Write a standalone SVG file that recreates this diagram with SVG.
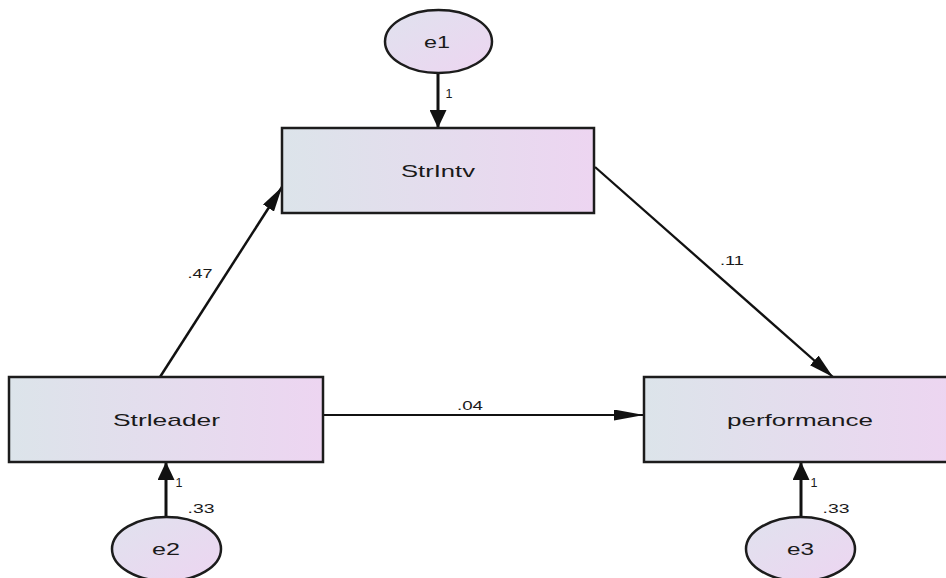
<svg xmlns="http://www.w3.org/2000/svg" width="946" height="578" viewBox="0 0 946 578">
<style>
.box{fill:url(#g);stroke:#1c1c1c;stroke-width:2.5}
.ell{fill:url(#g2);stroke:#1c1c1c;stroke-width:2.5}
.lbl{font-family:"Liberation Sans",Arial,sans-serif;font-size:17px;fill:#1a1a1a;text-anchor:middle}
.num{font-family:"Liberation Sans",Arial,sans-serif;font-size:12.5px;fill:#1a1a1a;text-anchor:middle}
.c{stroke:#111;fill:none}
</style>
<defs>
<linearGradient id="g" x1="0" y1="0" x2="1" y2="0">
<stop offset="0" stop-color="#dce4ea"/>
<stop offset="1" stop-color="#edd5f1"/>
</linearGradient>
<linearGradient id="g2" x1="0" y1="0" x2="1" y2="1">
<stop offset="0" stop-color="#e0e2ee"/>
<stop offset="1" stop-color="#edd5f1"/>
</linearGradient>
<marker id="av" markerUnits="userSpaceOnUse" viewBox="0 0 18 17" markerWidth="18" markerHeight="17" refX="18" refY="8.5" orient="auto">
<path d="M0,0 L18,8.5 L0,17 z" fill="#111"/>
</marker>
<marker id="ah" markerUnits="userSpaceOnUse" viewBox="0 0 30 11" markerWidth="30" markerHeight="11" refX="30" refY="5.5" orient="auto">
<path d="M0,0 L30,5.5 L0,11 z" fill="#111"/>
</marker>
<marker id="ad" markerUnits="userSpaceOnUse" viewBox="0 0 25 13" markerWidth="25" markerHeight="13" refX="25" refY="6.5" orient="auto">
<path d="M0,0 L25,6.5 L0,13 z" fill="#111"/>
</marker>
</defs>
<g id="connectors">
<line class="c" x1="438" y1="73" x2="438" y2="128" stroke-width="3" marker-end="url(#av)"/>
<line class="c" x1="166" y1="517" x2="166" y2="462" stroke-width="3" marker-end="url(#av)"/>
<line class="c" x1="801" y1="517" x2="801" y2="462" stroke-width="3" marker-end="url(#av)"/>
<line class="c" x1="160" y1="377" x2="282" y2="187" stroke-width="2.5" marker-end="url(#ad)"/>
<line class="c" x1="595" y1="167" x2="833" y2="377" stroke-width="2.3" marker-end="url(#ad)"/>
<line class="c" x1="323" y1="415" x2="644" y2="415" stroke-width="2" marker-end="url(#ah)"/>
<text class="num" x="449" y="98" textLength="7" lengthAdjust="spacingAndGlyphs">1</text>
<text class="num" x="200" y="278" textLength="25" lengthAdjust="spacingAndGlyphs">.47</text>
<text class="num" x="732" y="265" textLength="24" lengthAdjust="spacingAndGlyphs">.11</text>
<text class="num" x="470" y="410" textLength="26" lengthAdjust="spacingAndGlyphs">.04</text>
<text class="num" x="179" y="487" textLength="7" lengthAdjust="spacingAndGlyphs">1</text>
<text class="num" x="201" y="513" textLength="27" lengthAdjust="spacingAndGlyphs">.33</text>
<text class="num" x="814" y="487" textLength="7" lengthAdjust="spacingAndGlyphs">1</text>
<text class="num" x="836" y="513" textLength="27" lengthAdjust="spacingAndGlyphs">.33</text>
</g>
<g id="e1">
<ellipse class="ell" cx="438.5" cy="41.5" rx="53.5" ry="31.5"/>
<text class="lbl" x="437" y="48" textLength="26" lengthAdjust="spacingAndGlyphs">e1</text>
</g>
<g id="StrIntv">
<rect class="box" x="282" y="128" width="312" height="85"/>
<text class="lbl" x="438" y="177" textLength="74" lengthAdjust="spacingAndGlyphs">StrIntv</text>
</g>
<g id="Strleader">
<rect class="box" x="9" y="377" width="314" height="85"/>
<text class="lbl" x="166.5" y="426" textLength="107" lengthAdjust="spacingAndGlyphs">Strleader</text>
</g>
<g id="performance">
<rect class="box" x="644" y="377" width="312" height="85"/>
<text class="lbl" x="800" y="426" textLength="146" lengthAdjust="spacingAndGlyphs">performance</text>
</g>
<g id="e2">
<ellipse class="ell" cx="166.5" cy="549" rx="54.5" ry="32"/>
<text class="lbl" x="166" y="555" textLength="28" lengthAdjust="spacingAndGlyphs">e2</text>
</g>
<g id="e3">
<ellipse class="ell" cx="800.5" cy="549" rx="54.5" ry="32"/>
<text class="lbl" x="800.5" y="555" textLength="27" lengthAdjust="spacingAndGlyphs">e3</text>
</g>
</svg>
